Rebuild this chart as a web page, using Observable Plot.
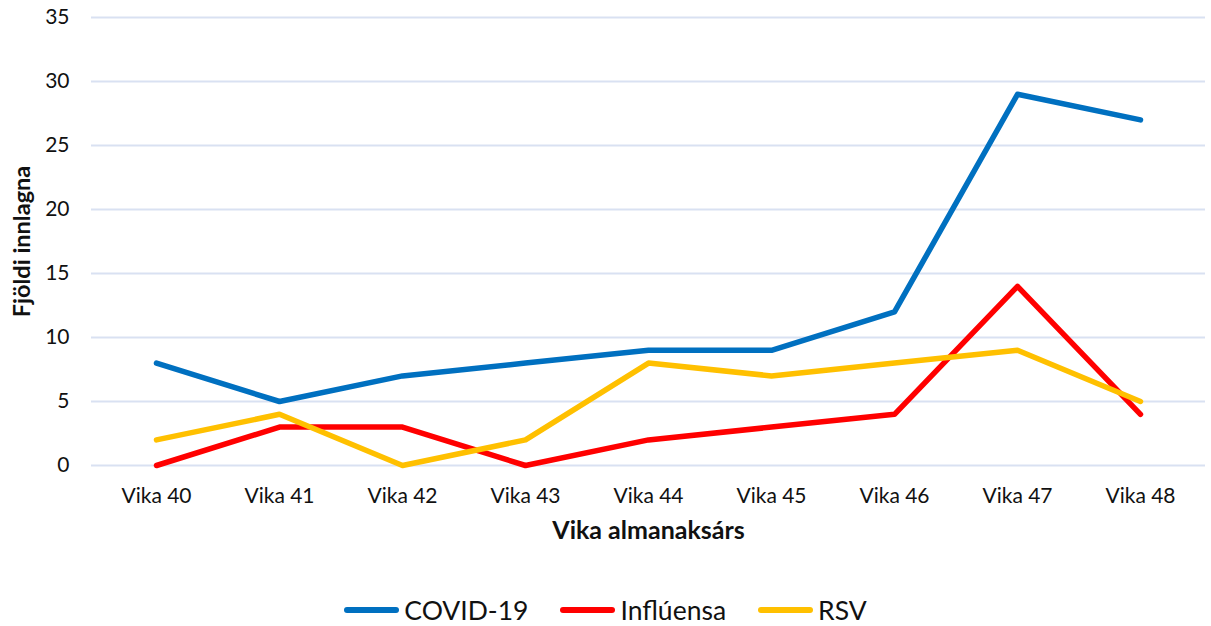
<!DOCTYPE html>
<html><head><meta charset="utf-8">
<script src="https://cdn.jsdelivr.net/npm/d3@7"></script>
<script src="https://cdn.jsdelivr.net/npm/@observablehq/plot@0.6"></script>
<style>
body{margin:0;background:#fff;font-family:Lato,"Open Sans",sans-serif;position:relative;width:1211px;height:626px;overflow:hidden;}
#legend{position:absolute;left:0;width:1211px;top:592px;height:36px;display:flex;justify-content:center;align-items:center;font-size:26.5px;color:#111;padding-left:0;box-sizing:border-box;}
#legend span.item{display:flex;align-items:center;gap:5px;margin:0 16px;}
#legend span.sw{display:inline-block;width:55px;height:5.5px;border-radius:3px;}
</style>
</head><body>
<div id="chart"></div>
<div id="legend"></div>
<script>
const weeks = ["Vika 40","Vika 41","Vika 42","Vika 43","Vika 44","Vika 45","Vika 46","Vika 47","Vika 48"];
const covid = [8,5,7,8,9,9,12,29,27];
const influensa = [0,3,3,0,2,3,4,14,4];
const rsv = [2,4,0,2,8,7,8,9,5];
const seriesNames = ["COVID-19","Inflúensa","RSV"];
const seriesColors = ["#0070c0","#ff0000","#ffc000"];
const yTicks = [0,5,10,15,20,25,30,35];

const seriesValues = [covid, influensa, rsv];
const data = [];
seriesNames.forEach((s,i)=>weeks.forEach((w,j)=>data.push({series:s, week:w, value:seriesValues[i][j]})));

const plot = Plot.plot({
  width:1211, height:565,
  marginLeft:91, marginRight:6, marginTop:17, marginBottom:100,
  style:{fontFamily:"Lato, 'Open Sans', sans-serif", fontSize:"21px", color:"#111"},
  x:{type:"point", domain:weeks, padding:0.5, label:null},
  y:{domain:[0,35], label:null},
  color:{domain:seriesNames, range:seriesColors},
  marks:[
    Plot.ruleY(yTicks,{stroke:"#d9e1f2", strokeWidth:2}),
    Plot.axisX({tickSize:0, tickPadding:23, fontSize:21}),
    Plot.axisY({ticks:yTicks, tickSize:0, tickPadding:22, fontSize:21}),
    Plot.text(["Vika almanaksárs"],{frameAnchor:"bottom", textAnchor:"middle", dy:73, fontWeight:"bold", fontSize:25}),
    Plot.text(["Fjöldi innlagna"],{frameAnchor:"left", textAnchor:"middle", dx:-69, rotate:-90, fontWeight:"bold", fontSize:23.5}),
    Plot.line(data,{x:"week", y:"value", z:"series", stroke:"series", strokeWidth:5.5, strokeLinejoin:"round", strokeLinecap:"round"})
  ]
});
document.getElementById("chart").appendChild(plot);

const lg = document.getElementById("legend");
seriesNames.forEach((s,i)=>{
  const it = document.createElement("span"); it.className="item";
  const sw = document.createElement("span"); sw.className="sw"; sw.style.background=seriesColors[i];
  it.appendChild(sw); it.appendChild(document.createTextNode(s));
  lg.appendChild(it);
});
</script>
</body></html>
